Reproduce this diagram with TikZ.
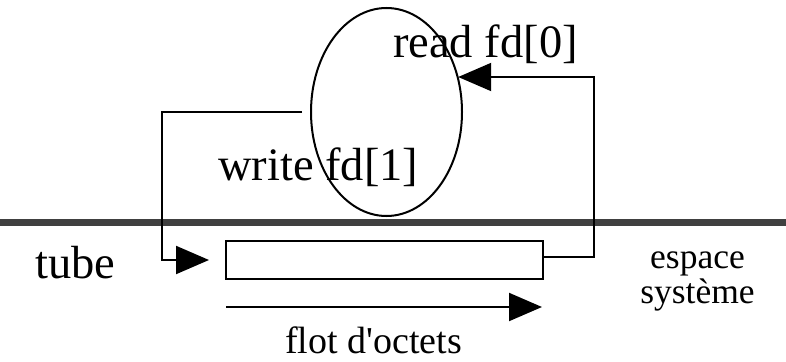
\documentclass[tikz,border=0pt]{standalone}
\usepackage{fontspec}
\setmainfont{Liberation Serif}
\usetikzlibrary{arrows.meta,shapes.geometric}
\definecolor{sepgray}{RGB}{64,64,64}
\begin{document}
\begin{tikzpicture}[x=1pt,y=-1pt,
  conn/.style={line width=2pt},
  tipend/.style={-{Triangle[length=33pt,width=28pt]}},
  lbl/.style={inner sep=0pt, anchor=base west, font=\fontsize{46.5}{50}\selectfont},
  small/.style={inner sep=0pt, anchor=base, font=\fontsize{35.5}{36}\selectfont},
  sepline/.style={line width=7pt, draw=sepgray}]
\useasboundingbox (0,0) rectangle (786,361);
% system boundary
\coordinate (gl) at (0,222);
\coordinate (gr) at (786,222);
\draw[sepline] (gl) -- (gr);
% process and pipe
\node[draw, ellipse, line width=2pt, minimum width=151pt, minimum height=208pt, inner sep=0pt] (proc) at (386.5,112) {};
\node[draw, rectangle, line width=2pt, minimum width=317pt, minimum height=38pt, inner sep=0pt] (box) at (384.5,260) {};
% labels
\node[lbl] (rd) at (393,57) {read fd[0]};
\node[lbl] (wr) at (218,180) {write fd[1]};
\node[lbl] (tube) at (35,278) {tube};
\node[lbl, font=\fontsize{38}{40}\selectfont] (flot) at (285,353) {flot d\textquotesingle octets};
\node[small] (esp1) at (697.5,268) {espace};
\node[small] (esp2) at (697.5,303) {système};
% connectors
\coordinate (lc) at (162,112);
\draw[conn, tipend, shorten <=8pt, shorten >=16pt] (proc.west) -- (lc) |- (box.west);
\coordinate (rc) at (594,77);
\draw[conn, tipend] ([yshift=3pt]box.east) -| (rc) -- (rc -| proc.27);
\coordinate (fa) at (226,307);
\coordinate (fb) at (542,307);
\draw[conn, tipend] (fa) -- (fb);
\end{tikzpicture}
\end{document}
